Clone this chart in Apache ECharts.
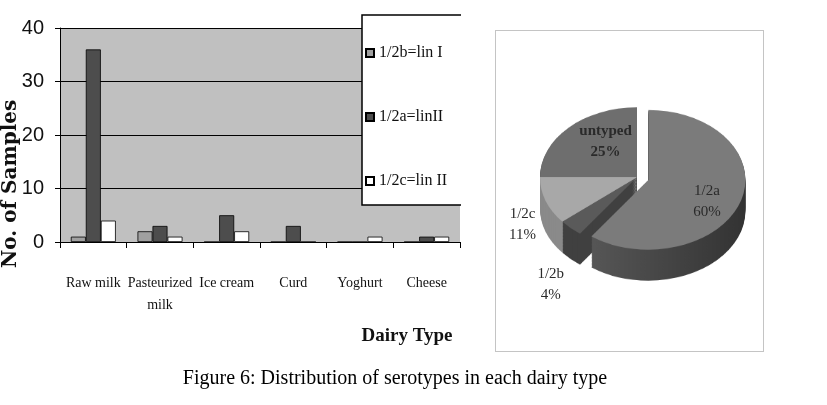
<!DOCTYPE html>
<html>
<head>
<meta charset="utf-8">
<title>Distribution of serotypes in each dairy type</title>
<script src="https://cdn.jsdelivr.net/npm/echarts@6/dist/echarts.min.js"></script>
<style>
  html, body { margin: 0; padding: 0; background: #fff; }
  #main { position: absolute; left: 0; top: 0; width: 827px; height: 405px; z-index: 2; }
  #pieBox { position: absolute; left: 495px; top: 30px; width: 267px; height: 320px;
            border: 1px solid #c4c4c4; overflow: hidden; z-index: 1; }
  #pie3d { width: 267px; height: 445px; transform: scaleY(0.72); transform-origin: 0 0; }
</style>
</head>
<body>
<div id="pieBox"><div id="pie3d"></div></div>
<div id="main"></div>
<script>
// bar chart data
const categories = ['Raw milk', 'Pasteurized\nmilk', 'Ice cream', 'Curd', 'Yoghurt', 'Cheese'];
const seriesNames = ['1/2b=lin I', '1/2a=linII', '1/2c=lin II'];
const lin1b = [1, 2, 0, 0, 0, 0];
const lin1a = [36, 3, 5, 3, 0, 1];
const lin1c = [4, 1, 2, 0, 1, 1];
const yMin = 0, yMax = 40, yStep = 10;

// pie chart data (percent)
const pieNames = ['1/2a', '1/2b', '1/2c', 'untyped'];
const pieShares = [60, 4, 11, 25];

// pie look
const topColors = ['#7b7b7b', '#5a5a5a', '#a8a8a8', '#6e6e6e'];
const sideColors = [
  { type: 'linear', x: 0, y: 0, x2: 1, y2: 0,
    colorStops: [{ offset: 0, color: '#565656' }, { offset: 1, color: '#333333' }] },
  '#404040', '#8a8a8a', '#505050'
];
const pieLabelOffset = [[21, 9], [-51, 70], [-66, 30], [5, 1]];

const serif = "'Liberation Serif', 'Times New Roman', serif";
const narrow = "'Liberation Sans Narrow', 'Liberation Sans', sans-serif";

// ---- 3D-looking pie (squashed by the css transform) ----
const DEPTH = 43, STEP = 2;
const PCX = 141, PCY = 203, PR = 97, EXPLODE = 12;

const makePie = (dy, colors) => ({
  type: 'pie',
  silent: true,
  animation: false,
  center: [PCX, PCY + dy],
  radius: PR,
  startAngle: 90,
  clockwise: true,
  selectedMode: 'single',
  selectedOffset: EXPLODE,
  label: { show: false },
  labelLine: { show: false },
  itemStyle: { borderWidth: 0 },
  data: pieNames.map((n, i) => ({
    name: n, value: pieShares[i], selected: i === 0,
    itemStyle: { color: colors[i] }
  }))
});

const pieSeries = [];
for (let d = DEPTH; d > 0; d -= STEP) pieSeries.push(makePie(d, sideColors));
pieSeries.push(makePie(0, topColors));

const pieChart = echarts.init(document.getElementById('pie3d'));
pieChart.setOption({ animation: false, series: pieSeries });

// ---- bar chart + pie labels ----
const barStyle = (color) => ({ color: color, borderColor: '#000', borderWidth: 0.8 });

const chart = echarts.init(document.getElementById('main'));
chart.setOption({
  animation: false,
  grid: {
    left: 60, right: 367, top: 28, bottom: 163,
    show: true, backgroundColor: '#c0c0c0', borderWidth: 0
  },
  legend: {
    data: seriesNames,
    orient: 'vertical',
    left: 362, top: 15,
    icon: 'rect',
    itemWidth: 8, itemHeight: 8,
    itemGap: 48,
    padding: [30, 16, 16, 3],
    backgroundColor: '#fff',
    borderColor: '#000',
    borderWidth: 1.5,
    textStyle: { fontFamily: serif, fontSize: 16, color: '#111' }
  },
  xAxis: {
    type: 'category',
    data: categories,
    axisLine: { lineStyle: { color: '#000', width: 1 } },
    axisTick: { show: true, length: 6, lineStyle: { color: '#000' } },
    axisLabel: {
      interval: 0, margin: 30, lineHeight: 22,
      fontFamily: serif, fontSize: 14, color: '#111'
    }
  },
  yAxis: {
    type: 'value',
    min: yMin, max: yMax, interval: yStep,
    axisLine: { show: true, lineStyle: { color: '#000', width: 1 } },
    axisTick: { show: true, length: 5, lineStyle: { color: '#000' } },
    splitLine: { lineStyle: { color: '#000', width: 1 } },
    axisLabel: { margin: 16, fontFamily: narrow, fontSize: 20, color: '#111' }
  },
  graphic: [
    { type: 'rect', left: 461, top: 5, z: 100, silent: true,
      shape: { width: 25, height: 250 }, style: { fill: '#fff' } },
    { type: 'text', x: 11, y: 268, rotation: Math.PI / 2, silent: true,
      style: { text: 'No. of Samples', font: "bold 20px 'DejaVu Serif', serif",
               fill: '#111', align: 'left', verticalAlign: 'middle' } },
    { type: 'text', x: 407, y: 336, silent: true,
      style: { text: 'Dairy Type', font: "bold 19px " + serif,
               fill: '#111', align: 'center', verticalAlign: 'middle' } },
    { type: 'text', x: 395, y: 379, silent: true,
      style: { text: 'Figure 6: Distribution of serotypes in each dairy type',
               font: "20px " + serif, fill: '#000', align: 'center', verticalAlign: 'middle' } }
  ],
  series: [
    { name: seriesNames[0], type: 'bar', data: lin1b, barWidth: 15, barGap: '0%',
      itemStyle: barStyle('#a0a0a0') },
    { name: seriesNames[1], type: 'bar', data: lin1a, barWidth: 15, barGap: '0%',
      itemStyle: barStyle('#4d4d4d') },
    { name: seriesNames[2], type: 'bar', data: lin1c, barWidth: 15, barGap: '0%',
      itemStyle: barStyle('#ffffff') },
    {
      // invisible copy of the pie, only carries the slice labels
      type: 'pie',
      silent: true,
      center: [637, 177],
      radius: PR,
      startAngle: 90,
      clockwise: true,
      selectedMode: false,
      itemStyle: { color: 'rgba(0,0,0,0)', borderWidth: 0 },
      labelLine: { show: false },
      label: {
        show: true, position: 'inside',
        formatter: '{b}\n{d}%',
        fontFamily: serif, fontSize: 15, lineHeight: 21, color: '#2a2a2a'
      },
      data: pieNames.map((n, i) => ({
        name: n, value: pieShares[i],
        label: { offset: pieLabelOffset[i], fontWeight: n === 'untyped' ? 'bold' : 'normal' }
      }))
    }
  ]
});
</script>
</body>
</html>
